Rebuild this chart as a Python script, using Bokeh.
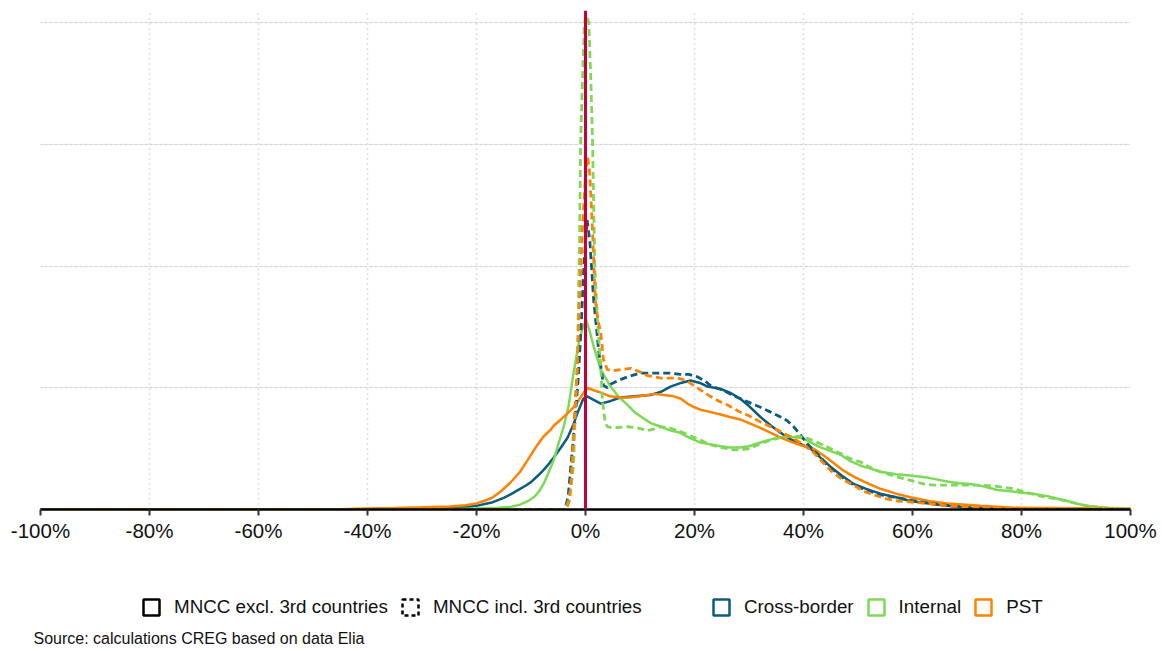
from bokeh.plotting import figure
from bokeh.models import Range1d, FixedTicker, Span, Legend, LegendItem, Label, Grid
from bokeh.layouts import column
from bokeh.embed import file_html
from bokeh.resources import INLINE

# ---- x axis ticks (relative deviation, %) ----
x_ticks = [-100, -80, -60, -40, -20, 0, 20, 40, 60, 80, 100]
x_tick_labels = ["-100%", "-80%", "-60%", "-40%", "-20%", "0%", "20%", "40%", "60%", "80%", "100%"]
y_grid_values = [1, 2, 3, 4]

# ---- density curves, MNCC excl. 3rd countries (solid) ----
cb_excl_x = [-100, -40, -30, -25, -22, -20, -18.5, -17, -15, -13.5, -12, -11, -10, -8.8, -7.8, -7, -5.8,
             -4.5, -3.3, -2.2, -1.5, -0.4, 0.3, 1.5, 2.8, 4.5, 6.4, 9, 11.9, 14, 15.6, 17.5, 19.3, 21,
             22.4, 23.6, 24.8, 26.5, 28.4, 30, 32.1, 34, 35.8, 37.5, 39.4, 41.3, 43, 45, 47, 49.2, 51.5,
             54.1, 57, 59.6, 63, 66.4, 70, 74, 80, 100]
cb_excl_y = [0, 0, 0.005, 0.012, 0.02, 0.03, 0.045, 0.06, 0.095, 0.13, 0.17, 0.195, 0.225, 0.275, 0.32,
             0.36, 0.43, 0.51, 0.59, 0.7, 0.79, 0.91, 0.93, 0.9, 0.87, 0.89, 0.92, 0.93, 0.94, 0.97, 1.01,
             1.04, 1.06, 1.04, 1.01, 1.0, 0.99, 0.96, 0.91, 0.85, 0.76, 0.69, 0.63, 0.58, 0.54, 0.5, 0.43,
             0.35, 0.28, 0.21, 0.17, 0.13, 0.1, 0.07, 0.05, 0.03, 0.015, 0.005, 0, 0]

int_excl_x = [-100, -30, -25, -20, -16, -13.8, -12, -10.5, -9.5, -8.5, -7.7, -6.8, -5.8, -4.9, -4, -3.1,
              -2.2, -1.3, -0.6, 0.1, 0.8, 1.5, 2.8, 4.6, 6, 7.7, 9, 10.6, 12, 13.8, 15.5, 17.4, 19, 21.1,
              23, 24.8, 26.5, 28.4, 30, 32.1, 33.5, 35.2, 37, 39.4, 41, 43.1, 45, 46.8, 48.5, 50.5, 52,
              54.1, 57, 59.6, 63, 66.4, 68.5, 70.6, 73, 75.6, 78, 79.8, 82, 84.8, 86.5, 88.4, 90, 92, 94,
              95.8, 100]
int_excl_y = [0, 0, 0.003, 0.008, 0.015, 0.02, 0.04, 0.07, 0.1, 0.15, 0.21, 0.3, 0.41, 0.55, 0.68, 0.85,
              1.12, 1.35, 1.48, 1.56, 1.46, 1.34, 1.15, 1.01, 0.93, 0.86, 0.8, 0.75, 0.71, 0.68, 0.65, 0.63,
              0.59, 0.55, 0.535, 0.52, 0.51, 0.51, 0.52, 0.55, 0.57, 0.59, 0.6, 0.59, 0.56, 0.51, 0.48, 0.45,
              0.4, 0.36, 0.34, 0.31, 0.29, 0.28, 0.26, 0.23, 0.215, 0.21, 0.19, 0.16, 0.15, 0.14, 0.13, 0.11,
              0.09, 0.07, 0.05, 0.03, 0.02, 0.015, 0.005]

pst_excl_x = [-100, -50, -45, -40, -35, -30, -25, -22, -20, -18, -17, -15.5, -13.8, -12, -10.7, -9, -7.7,
              -6.5, -5.8, -4.5, -3.3, -2.2, -1.5, -0.5, 0.3, 1.5, 2.8, 4.5, 6.4, 8, 10, 12.5, 14.5, 16.2,
              17.5, 18.7, 20, 21.1, 23, 24.8, 26.5, 28.4, 30, 32.1, 34, 35.8, 37.5, 39.4, 41.8, 43.5, 45,
              47, 49.2, 51.5, 54.1, 57, 59.6, 63, 66.4, 72.5, 78.5, 90.8, 100]
pst_excl_y = [0, 0, 0.003, 0.008, 0.012, 0.018, 0.025, 0.035, 0.05, 0.08, 0.1, 0.15, 0.22, 0.31, 0.4, 0.52,
              0.6, 0.65, 0.69, 0.74, 0.79, 0.84, 0.88, 0.95, 1.0, 0.98, 0.96, 0.93, 0.92, 0.92, 0.93, 0.95,
              0.94, 0.93, 0.91, 0.87, 0.84, 0.82, 0.8, 0.78, 0.76, 0.74, 0.71, 0.67, 0.63, 0.59, 0.56, 0.53,
              0.5, 0.45, 0.4, 0.33, 0.27, 0.22, 0.17, 0.13, 0.1, 0.07, 0.05, 0.03, 0.015, 0.01, 0.005]

# ---- density curves, MNCC incl. 3rd countries (dashed) ----
cb_incl_x = [-100, -4, -3.7, -3.2, -2.8, -2.3, -1.8, -1.3, -0.8, -0.3, 0.3, 0.8, 1.5, 2, 2.4, 3.3, 4, 4.6,
             6, 7.7, 10, 12, 13.8, 15.5, 17.4, 19, 20.5, 21.8, 22.9, 24, 25.3, 26.5, 27.9, 30, 32.1, 34,
             35.8, 37, 38.2, 39.5, 40.7, 42, 43.1, 44.5, 46.2, 47.5, 49.2, 51.5, 54.1, 57, 59, 63.3, 66,
             69.4, 73, 80, 100]
cb_incl_y = [0, 0, 0.02, 0.1, 0.3, 0.55, 0.8, 1.1, 1.5, 2.0, 2.38, 2.2, 1.72, 1.5, 1.31, 1.02, 1.0, 1.03,
             1.06, 1.09, 1.12, 1.12, 1.12, 1.12, 1.11, 1.11, 1.09, 1.06, 1.02, 1.0, 0.98, 0.95, 0.92, 0.88,
             0.84, 0.8, 0.76, 0.73, 0.68, 0.61, 0.54, 0.48, 0.43, 0.36, 0.3, 0.25, 0.2, 0.16, 0.12, 0.1,
             0.08, 0.05, 0.035, 0.02, 0.008, 0, 0]

int_incl_x = [-100, -3.8, -3.6, -3.1, -2.6, -2.2, -1.8, -1.5, -1.3, -1.1, -0.9, -0.5, -0.2, 0.2, 0.6, 1.0,
              1.3, 1.7, 2.2, 2.8, 3.1, 3.6, 4, 5, 7.7, 9.5, 11.4, 12.5, 13.8, 15.5, 17.4, 19, 21.1, 23,
              24.8, 27.2, 28.4, 30, 32.1, 34, 35.8, 37.5, 39.4, 41, 43.1, 45, 46.8, 48.5, 50.5, 52, 54.1,
              57, 59.6, 62, 64, 66.4, 70, 72.5, 75.5, 78.5, 81, 83.5, 86, 88.4, 90, 92, 94, 96, 100]
int_incl_y = [0, 0, 0.02, 0.07, 0.2, 0.35, 0.9, 1.17, 1.7, 2.2, 3.0, 3.6, 4.0, 4.06, 4.0, 3.5,
              3.0, 2.0, 1.56, 1.17, 0.9, 0.72, 0.68, 0.67, 0.68, 0.67, 0.65, 0.66, 0.68, 0.67, 0.64, 0.61,
              0.57, 0.53, 0.51, 0.49, 0.49, 0.5, 0.54, 0.57, 0.59, 0.6, 0.6, 0.58, 0.54, 0.5, 0.46, 0.42,
              0.39, 0.35, 0.31, 0.27, 0.24, 0.21, 0.2, 0.2, 0.2, 0.2, 0.19, 0.17, 0.14, 0.11, 0.09, 0.07,
              0.05, 0.03, 0.02, 0.01, 0.005]

pst_incl_x = [-100, -3.9, -3.6, -3.3, -2.9, -2.5, -2.2, -1.8, -1.5, -1.2, -0.6, 0, 0.4, 0.8, 1.3, 1.8,
              2.3, 2.8, 3.3, 4, 5, 6.5, 8.3, 10, 11.4, 13.8, 16.9, 18.5, 19.8, 21.5, 22.9, 24.5, 26, 28.4,
              30, 32.1, 34, 35.8, 37.5, 39.4, 41.8, 43.5, 45, 47, 49.2, 51, 52.3, 55, 57.2, 61.5, 66.4,
              72.5, 80, 100]
pst_incl_y = [0, 0, 0.01, 0.03, 0.08, 0.35, 0.63, 0.95, 1.17, 1.6, 2.28, 2.75, 2.9, 2.75, 2.28, 1.72,
              1.55, 1.45, 1.23, 1.15, 1.14, 1.15, 1.16, 1.13, 1.1, 1.08, 1.08, 1.06, 1.02, 0.97, 0.93, 0.89,
              0.86, 0.8, 0.77, 0.72, 0.68, 0.64, 0.6, 0.55, 0.47, 0.39, 0.32, 0.25, 0.2, 0.15, 0.13, 0.09,
              0.07, 0.055, 0.03, 0.015, 0.01, 0.005]

BLUE = "#0D5C7D"
GREEN = "#7ED957"
ORANGE = "#FF8200"
RED = "#C8003A"
FONT = "Liberation Sans"

p = figure(width=1162, height=560, output_backend="svg", toolbar_location=None,
           x_range=Range1d(-100, 100), y_range=Range1d(0, 4.1),
           y_axis_location=None,
           min_border_left=40, min_border_right=32, min_border_top=10, min_border_bottom=51)
p.frame_align = False
p.outline_line_color = None
p.background_fill_color = "white"
p.border_fill_color = "white"

# dotted grid
p.xgrid.ticker = FixedTicker(ticks=x_ticks)
p.xgrid.grid_line_color = "#c2c2c2"
p.xgrid.grid_line_dash = "1 4"
p.xgrid.grid_line_width = 1.6
ygrid = Grid(dimension=1, ticker=FixedTicker(ticks=y_grid_values),
             grid_line_color="#c2c2c2", grid_line_dash="1 4", grid_line_width=1.6)
p.add_layout(ygrid)

# x axis
ax = p.xaxis[0]
ax.ticker = FixedTicker(ticks=x_ticks)
ax.major_label_overrides = {t: lab for t, lab in zip(x_ticks, x_tick_labels)}
ax.axis_line_color = "black"
ax.axis_line_width = 2.5
ax.major_tick_line_color = "#333333"
ax.major_tick_line_width = 2
ax.major_tick_out = 6
ax.major_tick_in = 0
ax.minor_tick_line_color = None
ax.major_label_text_font = FONT
ax.major_label_text_font_size = "20.5px"
ax.major_label_text_color = "#111111"
ax.major_label_standoff = 3

SOLID_W = 2.5
DASH_W = 2.8
DASH = "7 4"

p.line(cb_excl_x, cb_excl_y, line_color=BLUE, line_width=SOLID_W)
p.line(int_excl_x, int_excl_y, line_color=GREEN, line_width=SOLID_W)
p.line(pst_excl_x, pst_excl_y, line_color=ORANGE, line_width=SOLID_W)
p.line(cb_incl_x, cb_incl_y, line_color=BLUE, line_width=DASH_W, line_dash=DASH)
p.line(int_incl_x, int_incl_y, line_color=GREEN, line_width=DASH_W, line_dash=DASH)
p.line(pst_incl_x, pst_incl_y, line_color=ORANGE, line_width=DASH_W, line_dash=DASH)

p.add_layout(Span(location=0, dimension="height", line_color=RED, line_width=3))

# ---- legend strip and source note ----
leg = figure(width=1162, height=91, output_backend="svg", toolbar_location=None,
             x_range=Range1d(0, 10), y_range=Range1d(0, 10),
             x_axis_location=None, y_axis_location=None, min_border=0)
leg.frame_align = False
leg.outline_line_color = None
leg.grid.visible = False

def key(color, dash="solid"):
    # one off-range rect per key, only its legend swatch is visible
    return leg.rect(x=[-50], y=[-50], width=1, height=1, fill_alpha=0, line_color=color,
                    line_width=2.5, line_dash=dash)

k_solid = key("black")
k_dash = key("black", "4 3")
k_cb = key(BLUE)
k_int = key(GREEN)
k_pst = key(ORANGE)

common = dict(orientation="horizontal", padding=0, margin=0, spacing=12, label_standoff=13,
              glyph_width=20, glyph_height=20, label_text_font=FONT, label_text_font_size="18.8px",
              label_text_color="#111111", border_line_color=None, background_fill_alpha=0)

lg1 = Legend(items=[LegendItem(label="MNCC excl. 3rd countries", renderers=[k_solid]),
                    LegendItem(label="MNCC incl. 3rd countries", renderers=[k_dash])],
             location=(141, 33), **common)
lg2 = Legend(items=[LegendItem(label="Cross-border", renderers=[k_cb]),
                    LegendItem(label="Internal", renderers=[k_int]),
                    LegendItem(label="PST", renderers=[k_pst])],
             location=(711, 33), **common)
leg.add_layout(lg1)
leg.add_layout(lg2)

leg.add_layout(Label(x=33, y=13, x_units="screen", y_units="screen",
                     text="Source: calculations CREG based on data Elia",
                     text_font=FONT, text_font_size="16px", text_color="#111111",
                     text_baseline="middle"))

layout = column(p, leg, spacing=0)
open("out.html", "w").write(file_html(layout, INLINE))
